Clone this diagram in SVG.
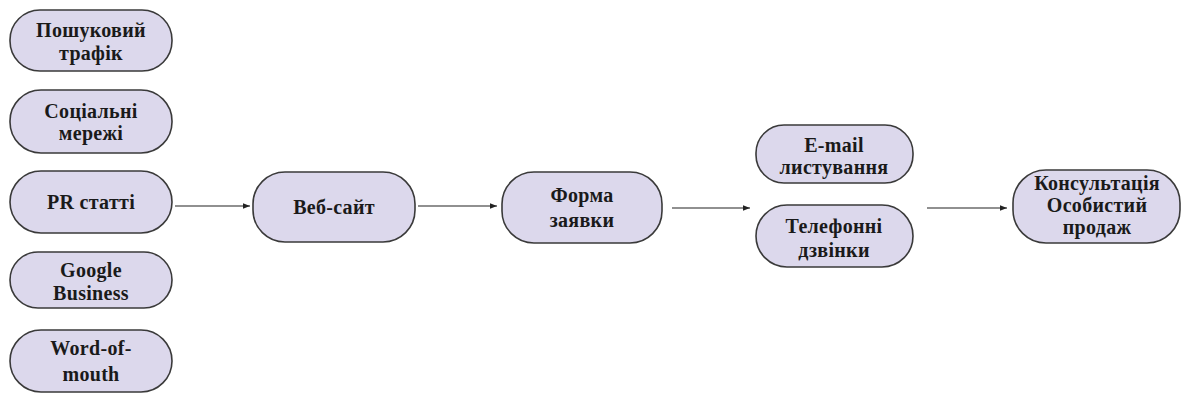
<svg xmlns="http://www.w3.org/2000/svg" width="1182" height="394" viewBox="0 0 1182 394">
<defs>
<style>
.n{fill:#dcd8ec;stroke:#3a3a3a;stroke-width:1.6}
.t{font-family:'Liberation Serif','Times New Roman',serif;font-weight:700;font-size:20px;letter-spacing:0.3px;fill:#1a1a1a;text-anchor:middle}
.c{stroke:#222;stroke-width:1.2;fill:none;marker-end:url(#ah)}
</style>
<marker id="ah" viewBox="0 0 10 10" refX="10" refY="5" markerWidth="7" markerHeight="7" markerUnits="userSpaceOnUse" orient="auto">
<path d="M0,1 L10,5 L0,9 Z" fill="#222"/>
</marker>
</defs>
<rect width="1182" height="394" fill="#fff"/>
<g id="n1"><rect class="n" x="10" y="10" width="162" height="61" rx="30"/><text class="t" x="91" y="37">Пошуковий</text><text class="t" x="91" y="60">трафік</text></g>
<g id="n2"><rect class="n" x="10" y="90" width="162" height="63" rx="31"/><text class="t" x="91" y="118">Соціальні</text><text class="t" x="91" y="140">мережі</text></g>
<g id="n3"><rect class="n" x="10" y="171" width="162" height="62" rx="31"/><text class="t" x="91" y="209">PR статті</text></g>
<g id="n4"><rect class="n" x="10" y="252" width="162" height="56" rx="28"/><text class="t" x="91" y="277">Google</text><text class="t" x="91" y="300">Business</text></g>
<g id="n5"><rect class="n" x="10" y="330" width="162" height="62" rx="31"/><text class="t" x="91" y="355">Word-of-</text><text class="t" x="91" y="381">mouth</text></g>
<g id="n6"><rect class="n" x="253" y="172" width="162" height="70" rx="32"/><text class="t" x="334" y="214">Веб-сайт</text></g>
<g id="n7"><rect class="n" x="502" y="172" width="160" height="71" rx="32"/><text class="t" x="582" y="202">Форма</text><text class="t" x="582" y="227">заявки</text></g>
<g id="n8"><rect class="n" x="756" y="125" width="157" height="58" rx="28"/><text class="t" x="834" y="152">E-mail</text><text class="t" x="834" y="174">листування</text></g>
<g id="n9"><rect class="n" x="756" y="205" width="157" height="62" rx="31"/><text class="t" x="834" y="233">Телефонні</text><text class="t" x="834" y="257">дзвінки</text></g>
<g id="n10"><rect class="n" x="1013" y="170" width="167" height="73" rx="33"/><text class="t" x="1097" y="190" letter-spacing="1">Консультація</text><text class="t" x="1097" y="212" letter-spacing="1">Особистий</text><text class="t" x="1097" y="234" letter-spacing="1">продаж</text></g>
<g id="connectors">
<line class="c" x1="175" y1="206" x2="250" y2="206"/>
<line class="c" x1="418" y1="206" x2="497" y2="206"/>
<line class="c" x1="672" y1="208" x2="750" y2="208"/>
<line class="c" x1="927" y1="208" x2="1007" y2="208"/>
</g>
</svg>
